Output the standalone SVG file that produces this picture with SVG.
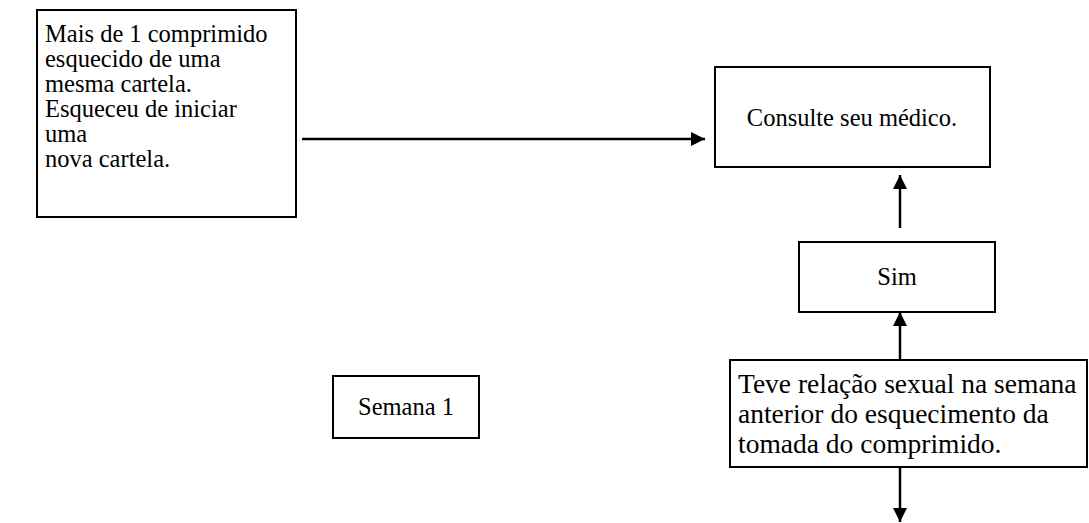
<svg xmlns="http://www.w3.org/2000/svg" width="1089" height="523" viewBox="0 0 1089 523">
  <defs>
    <style>
      .box { fill: #ffffff; stroke: #000000; stroke-width: 2; }
      .txt { font-family: "Liberation Serif", "Times New Roman", serif; font-size: 24.5px; fill: #000000; }
      .big { font-size: 27.5px; }
      .mid { text-anchor: middle; }
      .conn { stroke: #000000; stroke-width: 2.5; fill: none; marker-end: url(#arrow); }
    </style>
    <marker id="arrow" viewBox="0 0 10 10" refX="10" refY="5" markerUnits="userSpaceOnUse" markerWidth="16" markerHeight="14" orient="auto">
      <path d="M0,0 L10,5 L0,10 Z" fill="#000000"/>
    </marker>
  </defs>
  <rect width="1089" height="523" fill="#ffffff"/>

  <g id="node-mais">
    <rect class="box" x="37" y="10" width="259" height="207"/>
    <text class="txt" x="45" y="42">Mais de 1 comprimido</text>
    <text class="txt" x="45" y="67">esquecido de uma</text>
    <text class="txt" x="45" y="92">mesma cartela.</text>
    <text class="txt" x="45" y="117">Esqueceu de iniciar</text>
    <text class="txt" x="45" y="142">uma</text>
    <text class="txt" x="45" y="167">nova cartela.</text>
  </g>

  <g id="node-consulte">
    <rect class="box" x="715" y="67" width="275" height="100"/>
    <text class="txt mid" x="852" y="126">Consulte seu médico.</text>
  </g>

  <g id="node-sim">
    <rect class="box" x="799" y="242" width="196" height="70"/>
    <text class="txt mid" x="897" y="285">Sim</text>
  </g>

  <g id="node-semana">
    <rect class="box" x="333" y="376" width="146" height="62"/>
    <text class="txt mid" x="406" y="415">Semana 1</text>
  </g>

  <g id="node-teve">
    <rect class="box" x="730" y="360" width="357" height="107"/>
    <text class="txt big" x="738" y="393">Teve relação sexual na semana</text>
    <text class="txt big" x="738" y="423">anterior do esquecimento da</text>
    <text class="txt big" x="738" y="453">tomada do comprimido.</text>
  </g>

  <g id="connectors">
    <line class="conn" x1="302" y1="139" x2="705" y2="139"/>
    <line class="conn" x1="900" y1="228" x2="900" y2="175"/>
    <line class="conn" x1="900" y1="360" x2="900" y2="312"/>
    <line class="conn" x1="900" y1="467" x2="900" y2="522"/>
  </g>
</svg>
